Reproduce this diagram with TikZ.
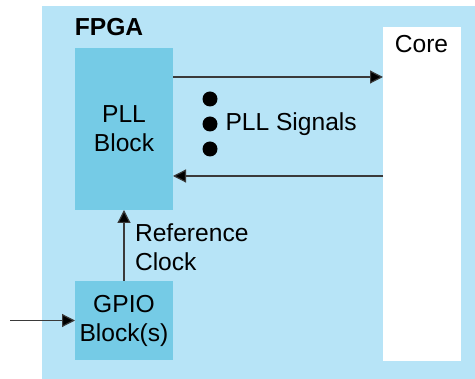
\documentclass[tikz,border=0pt]{standalone}
\usepackage{fontspec}
\setmainfont{Liberation Sans}
\usetikzlibrary{arrows.meta,positioning}
\definecolor{fpgablue}{HTML}{B7E4F7}
\definecolor{blockblue}{HTML}{75CBE6}
\definecolor{wire}{HTML}{3A3A3A}
\begin{document}
\begin{tikzpicture}
[x=1pt,y=-1pt,
font=\fontsize{24.6}{29}\selectfont,
every node/.append style={inner sep=0pt,outer sep=0pt},
block/.style={fill=blockblue,minimum width=98pt,align=center},
sig/.style={draw=wire,line width=1.2pt,-{Triangle[length=13pt,width=13pt,fill=black]}},
dot/.style={circle,fill=black,minimum size=15pt}]
\useasboundingbox (0,0) rectangle (475,379);
\node[fill=fpgablue,minimum width=433pt,minimum height=373pt] (fpga) at (258.5,192.5) {};
\node[font=\fontsize{24.6}{29}\selectfont\bfseries] (fpgalabel) at (109,27) {FPGA};
\node[block,minimum height=162pt] (pll) at (124,129) {PLL\\Block};
\node[block,minimum height=79pt] (gpio) at (124,320.5) {GPIO\\Block(s)};
\node[fill=white,minimum width=78pt,minimum height=334pt] (core) at (422,194) {};
\node (corelabel) at (421.5,44) {Core};
% signals between PLL and core
\draw[sig] ([yshift=-29pt]pll.north east) -- ([yshift=-29pt]pll.north east -| core.west);
\draw[sig] ([yshift=34pt]pll.south east -| core.west) -- ([yshift=34pt]pll.south east);
\node[dot] (dot1) at (210,99) {};
\node[dot] (dot2) at (210,124) {};
\node[dot] (dot3) at (210,149) {};
\node[right=8pt of dot2] (signals) {PLL Signals};
% reference clock
\draw[sig] (gpio.north) -- (pll.south);
\node[align=left,anchor=west] (refclk) at (135,247) {Reference\\Clock};
\coordinate (clkin) at (10,320.5);
\draw[sig] (clkin) -- (gpio.west);
\end{tikzpicture}
\end{document}
